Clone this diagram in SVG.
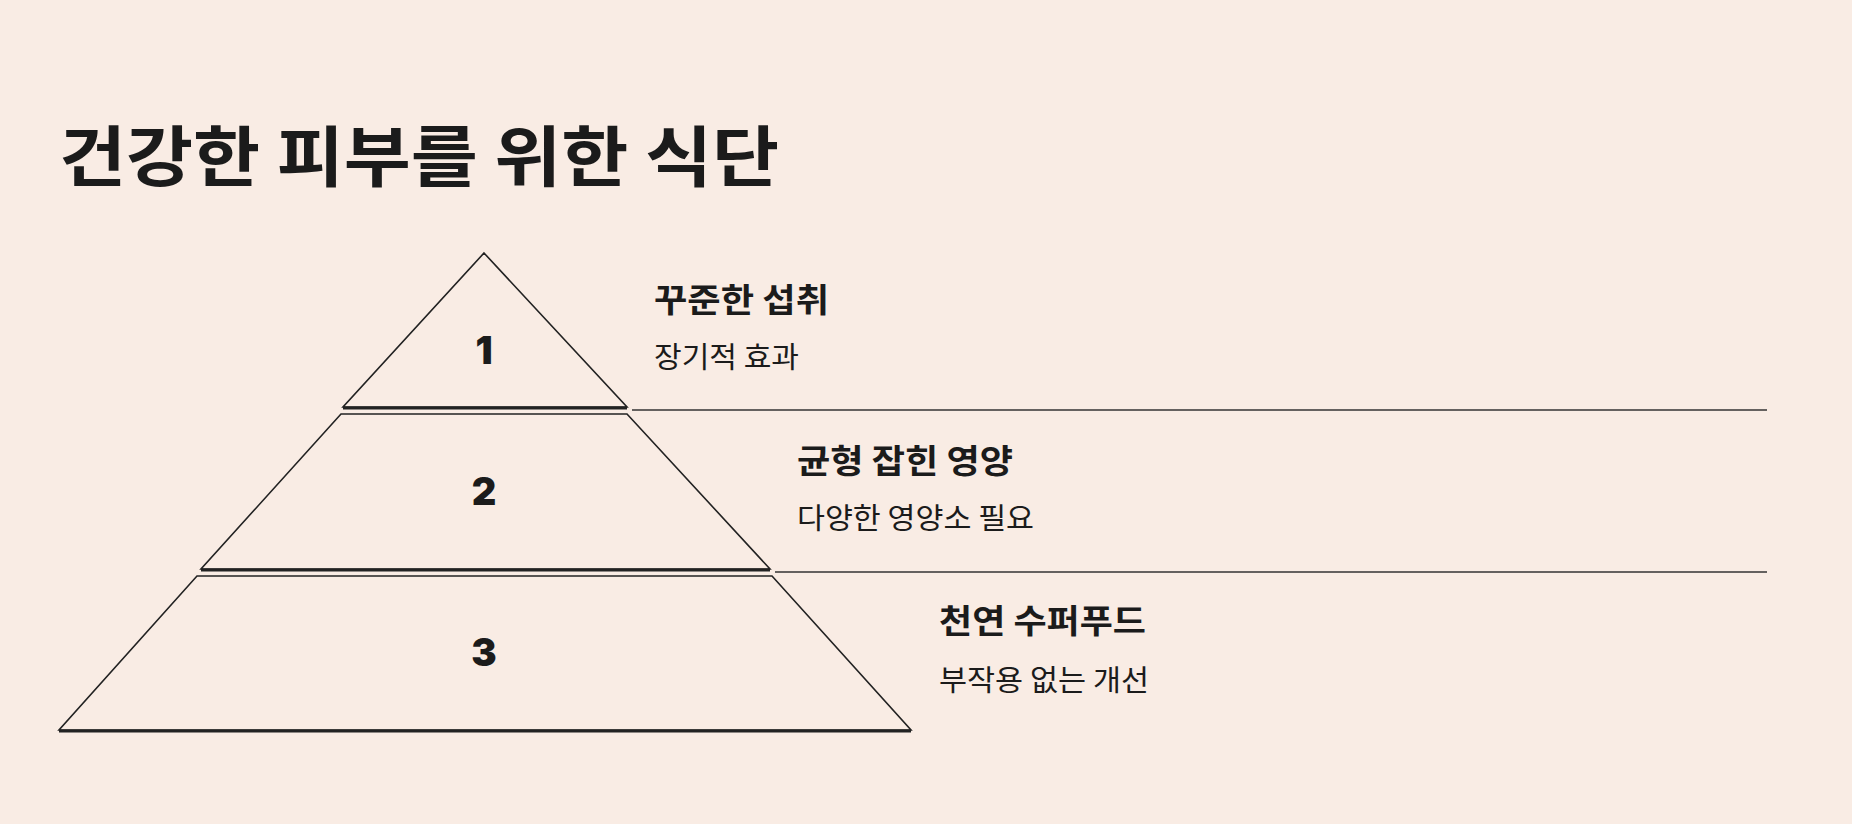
<svg xmlns="http://www.w3.org/2000/svg" width="1852" height="824" viewBox="0 0 1852 824">
<style>
.bg{fill:#f9ece4}
.title{font-family:"Noto Sans CJK KR","Noto Sans",sans-serif;font-weight:700;font-size:66px;fill:#1b1b1b}
.head{font-family:"Noto Sans CJK KR","Noto Sans",sans-serif;font-weight:700;font-size:33px;fill:#1b1b1b}
.sub{font-family:"Noto Sans CJK KR","Noto Sans",sans-serif;font-weight:400;font-size:29px;fill:#1b1b1b}
.num{font-family:Inter,"Liberation Sans",sans-serif;font-weight:900;font-size:38px;fill:#1b1b1b;text-anchor:middle}
.shape{fill:none;stroke:#222;stroke-width:1.6;stroke-linejoin:miter}
.base{stroke:#222;stroke-width:3.2}
.sep{stroke:#333;stroke-width:1.6}
</style>
<rect class="bg" x="0" y="0" width="1852" height="824"/>
<text class="title" x="59" y="181" textLength="720" lengthAdjust="spacingAndGlyphs">건강한 피부를 위한 식단</text>
<g id="level1">
<polygon class="shape" points="484,253 627,407 343,407"/>
<line class="base" x1="343" y1="408" x2="627" y2="408"/>
<text class="num" x="484" y="364">1</text>
</g>
<g id="level2">
<polygon class="shape" points="341,414 627,414 770,569 201,569"/>
<line class="base" x1="201" y1="570" x2="770" y2="570"/>
<text class="num" x="484" y="505">2</text>
</g>
<g id="level3">
<polygon class="shape" points="197,576 772,576 911,730 59,730"/>
<line class="base" x1="59" y1="731" x2="911" y2="731"/>
<text class="num" x="484" y="666">3</text>
</g>
<g id="connectors">
<line class="sep" x1="632" y1="410" x2="1767" y2="410"/>
<line class="sep" x1="775" y1="572" x2="1767" y2="572"/>
</g>
<g id="label1">
<text class="head" x="654" y="312" textLength="175" lengthAdjust="spacingAndGlyphs">꾸준한 섭취</text>
<text class="sub" x="654" y="368" textLength="145" lengthAdjust="spacingAndGlyphs">장기적 효과</text>
</g>
<g id="label2">
<text class="head" x="797" y="473" textLength="216" lengthAdjust="spacingAndGlyphs">균형 잡힌 영양</text>
<text class="sub" x="797" y="529" textLength="237" lengthAdjust="spacingAndGlyphs">다양한 영양소 필요</text>
</g>
<g id="label3">
<text class="head" x="939" y="633" textLength="207" lengthAdjust="spacingAndGlyphs">천연 수퍼푸드</text>
<text class="sub" x="939" y="691" textLength="210" lengthAdjust="spacingAndGlyphs">부작용 없는 개선</text>
</g>
</svg>
